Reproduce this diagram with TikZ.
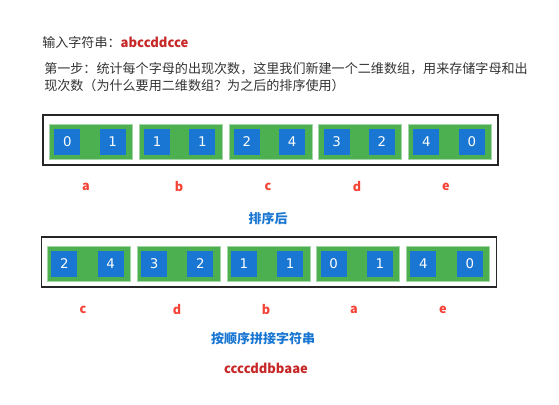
\documentclass[tikz,border=0pt]{standalone}
\usepackage{fontspec}
\setmainfont{Noto Sans CJK SC}
\newfontfamily\digitfont{DejaVu Sans}
\usetikzlibrary{positioning}
\definecolor{pairgreen}{HTML}{4CAF50}
\definecolor{pairedge}{HTML}{A5D6A7}
\definecolor{cellblue}{HTML}{1976D2}
\definecolor{titlered}{HTML}{C62828}
\definecolor{letterred}{HTML}{F44336}
\definecolor{textgray}{HTML}{333333}
\tikzset{
  outerbox/.style = {rectangle, draw=black!85, line width=1.1pt, minimum width=341.25pt, minimum height=37.5pt, inner sep=0pt},
  pairbox/.style = {rectangle, fill=pairgreen, draw=pairedge, line width=0.6pt, minimum width=62.25pt, minimum height=26.25pt, inner sep=0pt},
  cellbox/.style = {rectangle, fill=cellblue, text=white, minimum size=19.5pt, inner sep=0pt, font=\digitfont\fontsize{10}{12}\selectfont},
  letter/.style = {text=letterred, font=\bfseries\fontsize{9.5}{11}\selectfont},
  caption/.style = {text=cellblue, font=\bfseries\fontsize{9.75}{12}\selectfont},
  plaintext/.style = {inner sep=0pt, text=textgray, font=\fontsize{9.8}{12.75}\selectfont}
}

\begin{document}
\begin{tikzpicture}[x=0.75pt, y=-0.75pt, node distance=4.5pt]
\useasboundingbox (0,0) rectangle (559,404);

% Header text
\node[plaintext, anchor=west] (title) at (42,42)
  {输入字符串：{\bfseries\color{titlered}abccddcce}};
\node[plaintext, anchor=north west, align=left] (step) at (44,62.5)
  {第一步：统计每个字母的出现次数，这里我们新建一个二维数组，用来存储字母和出\\
   现次数（为什么要用二维数组？为之后的排序使用）};

% First row: counts per letter
\node[outerbox] (box1) at (270.5,140) {};
\node[pairbox, anchor=west] (pa) at (49,141.5) {};
\node[pairbox, right=of pa] (pb) {};
\node[pairbox, right=of pb] (pc) {};
\node[pairbox, right=of pc] (pd) {};
\node[pairbox, right=of pd] (pe) {};

\node[cellbox, right=3.75pt of pa.west] (pa1) {0};
\node[cellbox, left=5.25pt of pa.east] (pa2) {1};
\node[cellbox, right=3.75pt of pb.west] (pb1) {1};
\node[cellbox, left=5.25pt of pb.east] (pb2) {1};
\node[cellbox, right=3.75pt of pc.west] (pc1) {2};
\node[cellbox, left=5.25pt of pc.east] (pc2) {4};
\node[cellbox, right=3.75pt of pd.west] (pd1) {3};
\node[cellbox, left=5.25pt of pd.east] (pd2) {2};
\node[cellbox, right=3.75pt of pe.west] (pe1) {4};
\node[cellbox, left=5.25pt of pe.east] (pe2) {0};

\node[letter] (la) at (86,187) {a};
\node[letter] (lb) at (179,187) {b};
\node[letter] (lc) at (268,187) {c};
\node[letter] (ld) at (357,187) {d};
\node[letter] (le) at (446,187) {e};

\node[caption] (sorted) at (268,219) {排序后};

% Second row: sorted by count
\node[outerbox] (box2) at (269,262) {};
\node[pairbox, anchor=west] (qc) at (47,263.5) {};
\node[pairbox, right=of qc] (qd) {};
\node[pairbox, right=of qd] (qb) {};
\node[pairbox, right=of qb] (qa) {};
\node[pairbox, right=of qa] (qe) {};

\node[cellbox, right=3pt of qc.west] (qc1) {2};
\node[cellbox, left=5.25pt of qc.east] (qc2) {4};
\node[cellbox, right=3pt of qd.west] (qd1) {3};
\node[cellbox, left=5.25pt of qd.east] (qd2) {2};
\node[cellbox, right=3pt of qb.west] (qb1) {1};
\node[cellbox, left=5.25pt of qb.east] (qb2) {1};
\node[cellbox, right=3pt of qa.west] (qa1) {0};
\node[cellbox, left=5.25pt of qa.east] (qa2) {1};
\node[cellbox, right=3pt of qe.west] (qe1) {4};
\node[cellbox, left=5.25pt of qe.east] (qe2) {0};

\node[letter] (mc) at (83,310) {c};
\node[letter] (md) at (177,310) {d};
\node[letter] (mb) at (266,310) {b};
\node[letter] (ma) at (354,310) {a};
\node[letter] (me) at (443,310) {e};

\node[caption] (joined) at (263,339) {按顺序拼接字符串};
\node[text=titlered, font=\bfseries\fontsize{9.75}{12}\selectfont] (result) at (266,368) {ccccddbbaae};

\end{tikzpicture}
\end{document}
